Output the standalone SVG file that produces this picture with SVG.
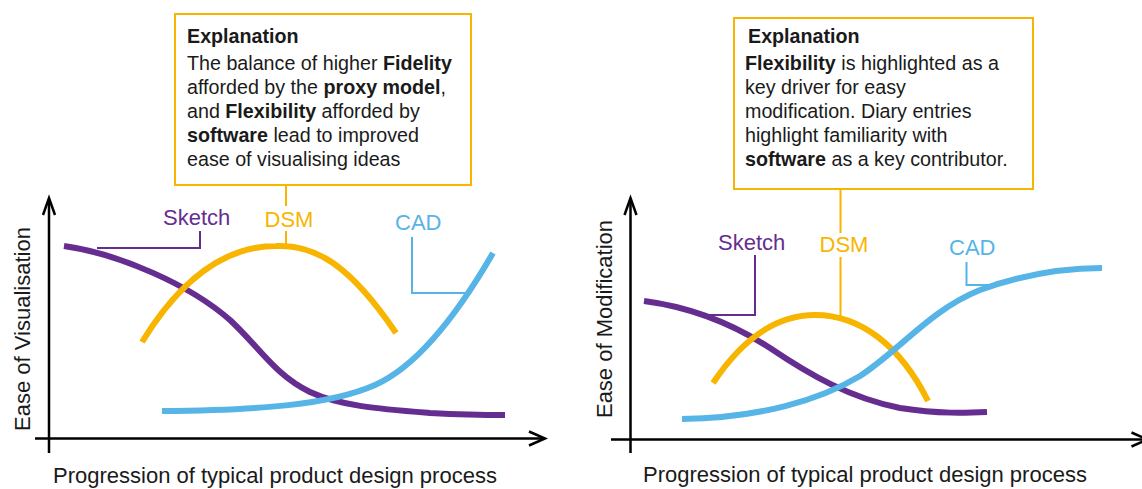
<svg xmlns="http://www.w3.org/2000/svg" width="1142" height="489" viewBox="0 0 1142 489">
  <style>
    text { font-family: "Liberation Sans", Arial, sans-serif; fill: #1a1a1a; }
    .box { fill: #ffffff; stroke: #F7B500; stroke-width: 2; }
    .body { font-size: 19.7px; }
    .b { font-weight: bold; }
    .axis { fill: none; stroke: #000; stroke-width: 2.5; }
    .lbl { font-size: 22px; }
    .curve { fill: none; stroke-width: 6; stroke-linecap: butt; }
    .lead { fill: none; stroke-width: 2; }
    .sketch { stroke: #662D91; }
    .dsm { stroke: #F7B500; }
    .cad { stroke: #56B4E6; }
    .tsketch { fill: #662D91; }
    .tdsm { fill: #F7B500; }
    .tcad { fill: #56B4E6; }
  </style>

  <!-- Left chart: ease of visualisation -->
  <g id="left-axes">
    <path class="axis" d="M49,199 V453 M35,438.5 H543"/>
    <path class="axis" d="M43,215 L49,198 L55,215 M529,431.5 L545,438.5 L529,445.5"/>
    <text class="lbl" transform="translate(30,329) rotate(-90)" text-anchor="middle">Ease of Visualisation</text>
    <text class="lbl" x="53" y="483">Progression of typical product design process</text>
  </g>

  <g id="left-explanation">
    <rect class="box" x="175" y="14" width="296" height="171"/>
    <text class="body" x="187" y="43"><tspan class="b">Explanation</tspan></text>
    <text class="body" x="187" y="70">The balance of higher <tspan class="b">Fidelity</tspan></text>
    <text class="body" x="187" y="94">afforded by the <tspan class="b">proxy model</tspan>,</text>
    <text class="body" x="187" y="118">and <tspan class="b">Flexibility</tspan> afforded by</text>
    <text class="body" x="187" y="142"><tspan class="b">software</tspan> lead to improved</text>
    <text class="body" x="187" y="166">ease of visualising ideas</text>
  </g>

  <g id="left-sketch">
    <path class="curve sketch" d="M64,246 C120,254 190,285 230,320 C260,348 275,375 310,392 C340,406 380,409 430,413 C470,415 490,415 505,415"/>
    <text class="lbl tsketch" x="163" y="225">Sketch</text>
  </g>
  <g id="left-dsm">
    <path class="curve dsm" d="M142,342 C180,280 225,246 276,246 C315,244 350,265 396,333"/>
    <text class="lbl tdsm" x="289" y="227" text-anchor="middle">DSM</text>
  </g>
  <g id="left-cad">
    <path class="curve cad" d="M162,411 C260,410 330,405 375,385 C420,365 460,310 493,253"/>
    <text class="lbl tcad" x="395" y="230">CAD</text>
  </g>

  <g id="left-connectors">
    <path class="lead dsm" d="M286,185 V206 M286,231 V244"/>
    <path class="lead sketch" d="M200,231 V248 H97"/>
    <path class="lead cad" d="M412,237 V293 H466"/>
  </g>

  <!-- Right chart: ease of modification -->
  <g id="right-axes">
    <path class="axis" d="M630.5,199 V453 M611,439.5 H1146"/>
    <path class="axis" d="M624.5,215 L630.5,198 L636.5,215 M1131.5,432.5 L1147.5,439.5 L1131.5,446.5"/>
    <text class="lbl" transform="translate(612,319) rotate(-90)" text-anchor="middle">Ease of Modification</text>
    <text class="lbl" x="643" y="482">Progression of typical product design process</text>
  </g>

  <g id="right-explanation">
    <rect class="box" x="734" y="18" width="299" height="171"/>
    <text class="body" x="748" y="43"><tspan class="b">Explanation</tspan></text>
    <text class="body" x="745" y="70"><tspan class="b">Flexibility</tspan> is highlighted as a</text>
    <text class="body" x="745" y="94">key driver for easy</text>
    <text class="body" x="745" y="118">modification. Diary entries</text>
    <text class="body" x="745" y="142">highlight familiarity with</text>
    <text class="body" x="745" y="166"><tspan class="b">software</tspan> as a key contributor.</text>
  </g>

  <g id="right-sketch">
    <path class="curve sketch" d="M644,301 C690,307 730,322 770,348 C810,375 850,398 900,408 C940,414 965,413 987,412"/>
    <text class="lbl tsketch" x="718" y="250">Sketch</text>
  </g>
  <g id="right-dsm">
    <path class="curve dsm" d="M713,383 C745,335 780,315 815,315 C860,315 900,345 928,401"/>
    <text class="lbl tdsm" x="844" y="252" text-anchor="middle">DSM</text>
  </g>
  <g id="right-cad">
    <path class="curve cad" d="M682,419 C760,418 820,400 860,376 C900,350 930,310 980,290 C1030,272 1070,268 1102,268"/>
    <text class="lbl tcad" x="949" y="255">CAD</text>
  </g>

  <g id="right-connectors">
    <path class="lead dsm" d="M840.5,189 V233 M840.5,257 V317"/>
    <path class="lead sketch" d="M755,255 V315 H709"/>
    <path class="lead cad" d="M966.5,262 V285 H990"/>
  </g>
</svg>
